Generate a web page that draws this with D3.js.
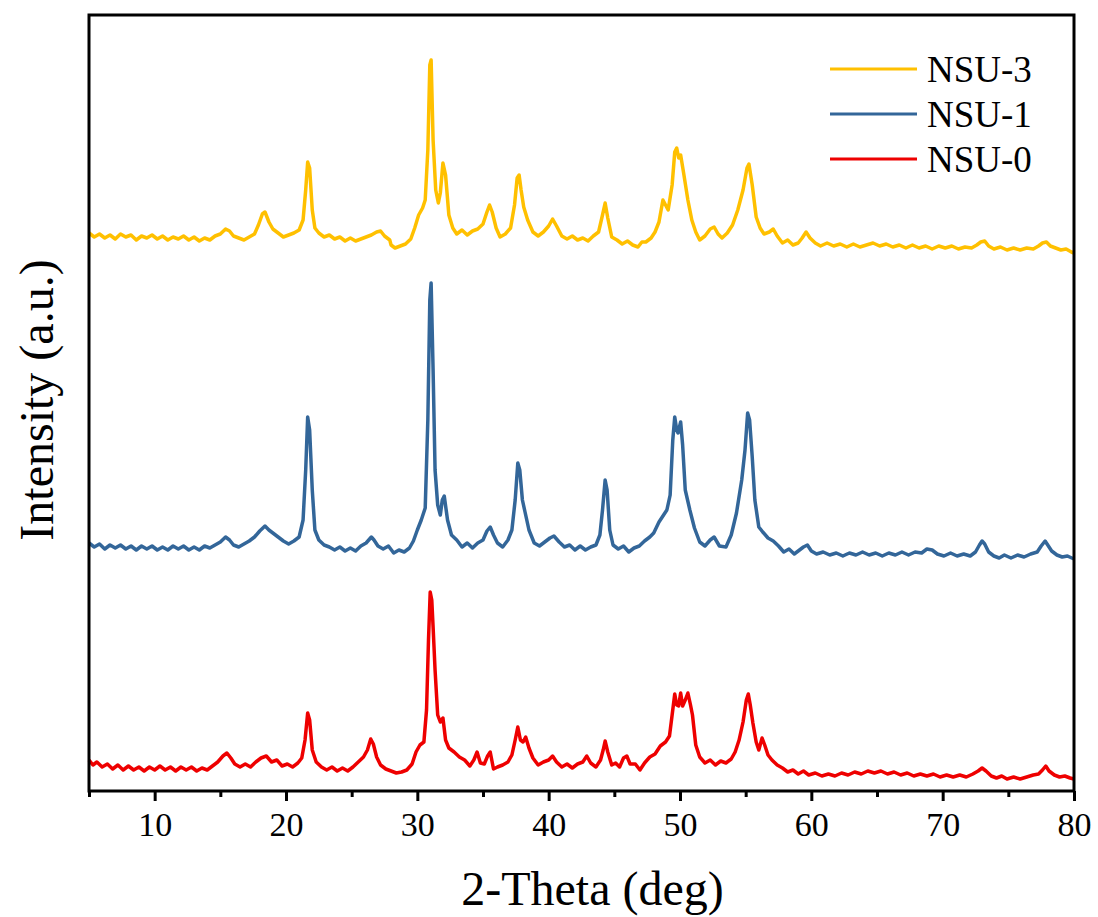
<!DOCTYPE html>
<html>
<head>
<meta charset="utf-8">
<script src="https://cdn.jsdelivr.net/npm/d3@7/dist/d3.min.js"></script>
<style>
	body { margin: 0; background: #fff; }
	svg text { font-family: "Liberation Serif", "Times New Roman", serif; fill: #000; }
</style>
</head>
<body>
<div id="app"></div>
<script>

// 2-theta (deg) and intensity (a.u., stacked as drawn)
const nsu3 = [
	[5.0,558],[5.4,554],[5.8,557],[6.2,553],[6.6,556],[7.0,552],[7.4,557],[7.8,554],[8.2,556],[8.6,551],
	[9.0,555],[9.4,553],[9.8,556],[10.2,552],[10.6,555],[11.0,551],[11.4,554],[11.8,552],[12.2,555],[12.6,551],
	[13.0,554],[13.4,550],[13.8,553],[14.2,551],[14.6,555],[15.0,557],[15.4,562],[15.7,560],[16.0,555],[16.4,553],
	[16.8,551],[17.2,554],[17.6,557],[17.9,566],[18.2,577],[18.4,579],[18.7,569],[19.0,562],[19.4,558],[19.8,554],
	[20.2,556],[20.6,558],[21.0,561],[21.3,571],[21.5,601],[21.65,629],[21.8,623],[22.0,581],[22.2,563],[22.5,558],
	[22.9,554],[23.3,556],[23.7,552],[24.1,554],[24.5,550],[24.9,553],[25.3,550],[25.7,552],[26.1,554],[26.5,556],
	[26.9,559],[27.2,560],[27.5,555],[27.9,551],[28.0,546],[28.3,543],[28.7,545],[29.1,547],[29.5,552],[29.8,563],
	[30.1,576],[30.4,583],[30.6,591],[30.8,641],[30.95,726],[31.05,731],[31.2,651],[31.4,601],[31.6,588],[31.75,598],
	[31.95,628],[32.15,616],[32.4,576],[32.7,563],[33.0,557],[33.4,561],[33.8,556],[34.2,560],[34.6,562],[35.0,567],
	[35.3,579],[35.5,586],[35.7,579],[36.0,563],[36.3,554],[36.7,557],[37.1,563],[37.4,586],[37.6,613],[37.75,616],
	[37.9,601],[38.1,584],[38.4,571],[38.8,559],[39.2,555],[39.6,559],[40.0,565],[40.3,572],[40.6,565],[41.0,555],
	[41.4,552],[41.8,555],[42.2,551],[42.6,553],[43.0,550],[43.4,555],[43.8,559],[44.1,576],[44.3,588],[44.5,573],
	[44.8,554],[45.2,551],[45.6,547],[46.0,550],[46.4,546],[46.8,544],[47.1,549],[47.4,549],[47.8,553],[48.1,559],
	[48.4,569],[48.7,591],[48.9,586],[49.1,581],[49.4,606],[49.6,639],[49.75,643],[49.9,633],[50.05,636],[50.3,616],
	[50.6,591],[50.9,571],[51.2,559],[51.5,551],[51.9,555],[52.3,562],[52.6,564],[52.9,557],[53.2,553],[53.6,558],
	[54.0,566],[54.4,581],[54.8,601],[55.1,623],[55.25,627],[55.5,606],[55.8,574],[56.1,563],[56.4,557],[56.8,559],
	[57.1,562],[57.4,555],[57.8,548],[58.2,551],[58.6,546],[59.0,548],[59.3,553],[59.6,559],[59.9,553],[60.3,548],
	[60.7,545],[61.2,548],[61.7,545],[62.2,547],[62.7,544],[63.2,547],[63.7,544],[64.2,546],[64.7,548],[65.2,545],
	[65.7,547],[66.2,544],[66.7,546],[67.2,543],[67.7,546],[68.2,543],[68.7,545],[69.2,542],[69.7,545],[70.2,543],
	[70.7,545],[71.2,542],[71.7,544],[72.2,543],[72.6,546],[72.9,549],[73.2,550],[73.5,545],[73.9,542],[74.4,544],
	[74.9,541],[75.4,543],[75.9,541],[76.4,543],[76.9,542],[77.3,545],[77.6,548],[77.9,549],[78.2,545],[78.6,543],
	[79.0,541],[79.4,542],[79.8,539],[80.0,538]
];

const nsu1 = [
	[5.0,248],[5.4,244],[5.8,247],[6.2,242],[6.6,246],[7.0,243],[7.4,246],[7.8,242],[8.2,245],[8.6,241],
	[9.0,245],[9.4,242],[9.8,245],[10.2,241],[10.6,244],[11.0,241],[11.4,245],[11.8,242],[12.2,245],[12.6,241],
	[13.0,244],[13.4,241],[13.8,245],[14.2,243],[14.6,246],[15.0,249],[15.4,254],[15.7,251],[16.0,246],[16.4,244],
	[16.8,247],[17.2,250],[17.6,254],[18.0,260],[18.4,265],[18.7,261],[19.0,258],[19.4,254],[19.8,250],[20.2,247],
	[20.6,250],[21.0,254],[21.3,271],[21.5,321],[21.65,374],[21.8,361],[22.0,301],[22.2,261],[22.5,251],[22.9,246],
	[23.3,244],[23.7,241],[24.1,244],[24.5,240],[24.9,243],[25.3,240],[25.7,245],[26.1,248],[26.5,254],[26.7,251],
	[27.0,245],[27.4,242],[27.8,245],[28.2,238],[28.6,241],[29.0,239],[29.4,243],[29.7,250],[30.0,261],[30.3,271],
	[30.6,283],[30.8,371],[30.95,491],[31.05,508],[31.2,421],[31.35,321],[31.55,286],[31.75,276],[31.9,291],[32.05,295],
	[32.3,271],[32.6,256],[33.0,251],[33.4,244],[33.8,248],[34.2,243],[34.6,248],[35.0,251],[35.3,260],[35.55,264],
	[35.8,256],[36.1,248],[36.5,244],[36.9,251],[37.2,261],[37.45,291],[37.65,328],[37.8,321],[38.0,291],[38.2,279],
	[38.5,261],[38.9,248],[39.3,245],[39.7,249],[40.1,253],[40.4,255],[40.8,249],[41.2,244],[41.6,246],[42.0,241],
	[42.4,245],[42.8,241],[43.2,244],[43.6,246],[43.9,256],[44.1,281],[44.3,311],[44.45,301],[44.65,261],[44.9,246],
	[45.3,242],[45.7,245],[46.1,239],[46.5,243],[46.9,245],[47.3,250],[47.7,254],[48.0,258],[48.4,269],[48.7,275],
	[49.0,281],[49.25,296],[49.45,351],[49.6,374],[49.75,361],[49.85,358],[50.05,369],[50.2,346],[50.4,301],[50.75,281],
	[51.1,263],[51.5,249],[51.9,245],[52.3,251],[52.6,254],[53.0,245],[53.5,244],[53.9,256],[54.3,278],[54.7,311],
	[54.95,341],[55.15,378],[55.3,371],[55.5,334],[55.7,291],[56.0,264],[56.3,259],[56.7,253],[57.1,250],[57.5,245],
	[57.9,239],[58.3,242],[58.7,237],[59.1,241],[59.4,244],[59.7,246],[60.0,240],[60.4,237],[60.9,239],[61.4,236],
	[61.9,238],[62.4,235],[62.9,238],[63.4,236],[63.9,239],[64.4,236],[64.9,238],[65.4,235],[65.9,238],[66.4,236],
	[66.9,239],[67.4,236],[67.9,239],[68.4,238],[68.8,242],[69.2,241],[69.6,237],[70.1,235],[70.6,238],[71.1,235],
	[71.6,237],[72.1,235],[72.5,239],[72.8,246],[73.0,250],[73.2,247],[73.5,239],[73.9,235],[74.3,233],[74.7,236],
	[75.2,233],[75.7,236],[76.2,234],[76.7,237],[77.2,239],[77.5,245],[77.8,250],[78.0,246],[78.3,240],[78.7,236],
	[79.1,234],[79.5,235],[80.0,232]
];

const nsu0 = [
	[5.0,31],[5.3,26],[5.6,29],[6.0,24],[6.4,27],[6.8,22],[7.2,26],[7.6,21],[8.0,25],[8.4,21],
	[8.8,24],[9.2,20],[9.6,24],[10.0,21],[10.4,25],[10.8,21],[11.2,24],[11.6,20],[12.0,24],[12.4,21],
	[12.8,24],[13.2,20],[13.6,23],[14.0,21],[14.4,25],[14.8,29],[15.2,35],[15.5,38],[15.8,33],[16.1,27],
	[16.5,24],[16.9,27],[17.3,24],[17.7,29],[18.1,33],[18.5,35],[18.9,29],[19.3,31],[19.7,25],[20.1,27],
	[20.5,24],[20.9,28],[21.2,33],[21.45,51],[21.65,78],[21.8,71],[22.0,41],[22.3,29],[22.7,24],[23.1,21],
	[23.5,24],[23.9,20],[24.3,23],[24.7,20],[25.1,24],[25.5,29],[25.9,34],[26.2,41],[26.45,52],[26.65,47],
	[26.9,34],[27.2,26],[27.6,22],[28.0,20],[28.4,18],[28.8,19],[29.2,21],[29.6,27],[29.9,39],[30.2,46],
	[30.5,49],[30.7,81],[30.85,151],[30.98,199],[31.1,191],[31.2,164],[31.35,121],[31.55,76],[31.75,69],[31.95,73],
	[32.15,51],[32.4,43],[32.8,39],[33.2,34],[33.6,31],[34.0,25],[34.3,31],[34.55,39],[34.8,28],[35.1,27],
	[35.35,35],[35.55,39],[35.8,22],[36.1,24],[36.5,26],[36.9,29],[37.2,36],[37.45,51],[37.65,64],[37.85,51],
	[38.05,49],[38.25,54],[38.5,43],[38.8,33],[39.2,26],[39.6,29],[40.0,31],[40.3,35],[40.6,29],[41.0,24],
	[41.4,27],[41.8,23],[42.2,27],[42.6,29],[42.9,35],[43.2,28],[43.6,24],[43.95,31],[44.15,41],[44.3,50],
	[44.5,39],[44.8,26],[45.1,28],[45.4,24],[45.7,33],[45.95,35],[46.2,27],[46.6,27],[46.95,21],[47.3,28],
	[47.7,34],[48.1,37],[48.5,45],[48.9,49],[49.2,55],[49.4,76],[49.6,97],[49.75,86],[49.9,85],[50.05,98],
	[50.2,85],[50.4,91],[50.6,98],[50.8,86],[50.95,76],[51.2,46],[51.5,34],[51.9,28],[52.3,31],[52.7,26],
	[53.1,30],[53.5,28],[53.9,32],[54.2,39],[54.5,51],[54.8,69],[55.05,91],[55.2,97],[55.35,86],[55.55,68],
	[55.8,49],[56.0,41],[56.25,53],[56.45,46],[56.7,36],[57.0,31],[57.4,26],[57.8,23],[58.2,19],[58.6,21],
	[59.0,17],[59.4,20],[59.8,16],[60.3,18],[60.8,15],[61.3,17],[61.8,15],[62.3,18],[62.8,16],[63.3,19],
	[63.8,17],[64.3,20],[64.8,18],[65.3,20],[65.8,17],[66.3,19],[66.8,16],[67.3,18],[67.8,15],[68.3,17],
	[68.8,15],[69.3,17],[69.8,14],[70.3,16],[70.8,14],[71.3,16],[71.8,14],[72.3,17],[72.7,20],[73.0,23],
	[73.3,20],[73.7,15],[74.1,13],[74.5,15],[74.9,12],[75.4,14],[75.9,12],[76.4,14],[76.9,16],[77.3,17],
	[77.6,21],[77.85,25],[78.1,20],[78.5,16],[78.9,14],[79.3,15],[79.7,13],[80.0,12]
];

const seriesNames = ['NSU-3', 'NSU-1', 'NSU-0'];
const seriesColors = ['#FFC000', '#336699', '#EE0000'];
const seriesData = [nsu3, nsu1, nsu0];

const majorTicks = [10, 20, 30, 40, 50, 60, 70, 80];
const minorTicks = [5, 15, 25, 35, 45, 55, 65, 75];

const margin = { top: 15, right: 24, bottom: 126, left: 89 },
	width = 1098 - margin.left - margin.right,
	height = 917 - margin.top - margin.bottom;

const xScale = d3.scaleLinear()
	.domain([5, 80])
	.range([0, width]);

const yScale = d3.scaleLinear()
	.domain([0, 776])
	.range([height, 0]);

const svg = d3.select('#app').append('svg')
	.attr('width', 1098)
	.attr('height', 917);

const g = svg.append('g')
	.attr('transform', `translate(${ margin.left },${ margin.top })`);

const line = d3.line()
	.x(d => xScale(d[0]))
	.y(d => yScale(d[1]));

// draw bottom series first so the upper ones sit on top
seriesData.slice().reverse().forEach((data, i) => {
	const k = seriesData.length - 1 - i;
	g.append('path')
		.datum(data)
		.attr('fill', 'none')
		.attr('stroke', seriesColors[k])
		.attr('stroke-width', 3.5)
		.attr('stroke-linejoin', 'round')
		.attr('d', line);
});

// minor ticks
g.append('g')
	.attr('transform', `translate(0,${ height })`)
	.call(d3.axisBottom(xScale).tickValues(minorTicks).tickSize(6).tickFormat(''))
	.call(a => a.select('.domain').remove())
	.call(a => a.selectAll('line').attr('stroke-width', 3));

// major ticks
g.append('g')
	.attr('transform', `translate(0,${ height })`)
	.call(d3.axisBottom(xScale).tickValues(majorTicks).tickSize(10).tickPadding(11).tickFormat(d3.format('d')))
	.call(a => a.select('.domain').remove())
	.call(a => a.selectAll('line').attr('stroke-width', 3))
	.call(a => a.selectAll('text')
		.style('font-family', '"Liberation Serif", "Times New Roman", serif')
		.style('font-size', '34px'));

// frame
g.append('rect')
	.attr('width', width)
	.attr('height', height)
	.attr('fill', 'none')
	.attr('stroke', '#000')
	.attr('stroke-width', 3);

// axis titles
svg.append('text')
	.attr('x', margin.left + width / 2 + 11)
	.attr('y', 905)
	.attr('text-anchor', 'middle')
	.style('font-size', '48px')
	.text('2-Theta (deg)');

svg.append('text')
	.attr('transform', 'translate(53,400) rotate(-90)')
	.attr('text-anchor', 'middle')
	.style('font-size', '48px')
	.text('Intensity (a.u.)');

// legend
const legend = svg.append('g')
	.attr('transform', 'translate(830,69)');

seriesNames.forEach((name, i) => {
	const row = legend.append('g')
		.attr('transform', `translate(0,${ i * 45 })`);
	row.append('line')
		.attr('x1', 0)
		.attr('x2', 87)
		.attr('stroke', seriesColors[i])
		.attr('stroke-width', 3);
	row.append('text')
		.attr('x', 97)
		.attr('y', 13)
		.style('font-size', '37px')
		.text(name);
});

</script>
</body>
</html>
